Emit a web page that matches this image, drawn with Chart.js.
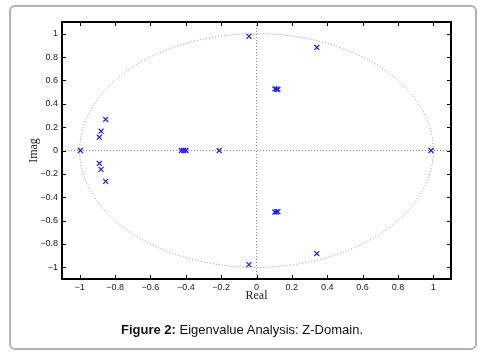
<!DOCTYPE html>
<html>
<head>
<meta charset="utf-8">
<script src="https://cdn.jsdelivr.net/npm/chart.js@4"></script>
<style>
  html, body { margin: 0; padding: 0; background: #fff; }
  body { width: 494px; height: 358px; position: relative; overflow: hidden; }
  #frame {
    position: absolute; left: 9px; top: 5px; width: 464px; height: 341px;
    border: 2px solid #b3b3b3; border-radius: 6px;
  }
  #wrap { position: absolute; left: 0; top: 0; width: 494px; height: 358px; }
  #caption {
    position: absolute; left: 0; width: 484px; top: 322px; text-align: center;
    font-family: "Liberation Sans", Arial, sans-serif; font-size: 13px; color: #111;
  }
</style>
</head>
<body>
<div id="frame"></div>
<div id="wrap"><canvas id="myChart" width="494" height="358"></canvas></div>
<div id="caption"><b>Figure 2:</b> Eigenvalue Analysis: Z-Domain.</div>
<script>
// eigenvalues
const realParts = [-0.996, 0.987, -0.425, -0.412, -0.399, -0.211,
  -0.043, -0.043, 0.341, 0.341,
  0.104, 0.113, 0.121, 0.104, 0.113, 0.121,
  -0.853, -0.879, -0.889, -0.853, -0.879, -0.889];
const imagParts = [0, 0, 0, 0, 0, 0,
  0.977, -0.977, 0.882, -0.882,
  0.527, 0.526, 0.522, -0.527, -0.525, -0.523,
  0.267, 0.165, 0.114, -0.264, -0.162, -0.111];

const xTicks = [-1, -0.8, -0.6, -0.4, -0.2, 0, 0.2, 0.4, 0.6, 0.8, 1];
const yTicks = [-1, -0.8, -0.6, -0.4, -0.2, 0, 0.2, 0.4, 0.6, 0.8, 1];

function fmt(v) {
  return v < 0 ? "\u2212" + Math.abs(v) : String(v);
}

// unit circle, zero lines, box and inward ticks (matlab look)
const matlabAxes = {
  id: "matlabAxes",
  beforeDatasetsDraw(chart) {
    const { ctx, chartArea: a, scales: { x, y } } = chart;
    const cx = x.getPixelForValue(0), cy = y.getPixelForValue(0);
    ctx.save();
    ctx.strokeStyle = "#8a8a8a";
    ctx.lineWidth = 1;
    ctx.setLineDash([1, 2]);
    ctx.beginPath();
    ctx.moveTo(a.left, cy); ctx.lineTo(a.right, cy);
    ctx.moveTo(cx, a.top); ctx.lineTo(cx, a.bottom);
    ctx.stroke();
    ctx.beginPath();
    ctx.ellipse(cx, cy, x.getPixelForValue(1) - cx, cy - y.getPixelForValue(1), 0, 0, Math.PI * 2);
    ctx.stroke();
    ctx.restore();
  },
  afterDraw(chart) {
    const { ctx, chartArea: a, scales: { x, y } } = chart;
    ctx.save();
    ctx.strokeStyle = "#000";
    ctx.lineWidth = 1;
    ctx.beginPath();
    xTicks.forEach((v) => {
      const px = Math.round(x.getPixelForValue(v)) + 0.5;
      ctx.moveTo(px, a.bottom); ctx.lineTo(px, a.bottom - 4);
      ctx.moveTo(px, a.top); ctx.lineTo(px, a.top + 4);
    });
    yTicks.forEach((v) => {
      const py = Math.round(y.getPixelForValue(v)) + 0.5;
      ctx.moveTo(a.left, py); ctx.lineTo(a.left + 4, py);
      ctx.moveTo(a.right, py); ctx.lineTo(a.right - 4, py);
    });
    ctx.stroke();
    ctx.lineWidth = 2;
    ctx.strokeRect(a.left, a.top, a.right - a.left, a.bottom - a.top);
    ctx.restore();
  },
};

const ctx = document.getElementById("myChart").getContext("2d");

const myChart = new Chart(ctx, {
  type: "scatter",
  data: {
    datasets: [
      {
        label: "eigenvalues",
        data: realParts.map((re, i) => ({ x: re, y: imagParts[i] })),
        pointStyle: "crossRot",
        pointRadius: 3.5,
        pointBorderWidth: 1.2,
        borderColor: "#1a1aff",
        backgroundColor: "#1a1aff",
      },
    ],
  },
  options: {
    responsive: false,
    animation: false,
    layout: { padding: { left: 27, right: 43, top: 22, bottom: 55 } },
    plugins: { legend: { display: false }, tooltip: { enabled: false } },
    scales: {
      x: {
        type: "linear",
        min: -1.1,
        max: 1.1,
        afterBuildTicks: (s) => { s.ticks = xTicks.map((v) => ({ value: v })); },
        afterFit: (s) => { s.height = 24; },
        grid: { display: false, drawTicks: false, tickLength: 0 },
        border: { display: false },
        ticks: {
          padding: 3,
          color: "#222",
          font: { family: "Liberation Sans", size: 9 },
          callback: (v) => fmt(v),
          maxRotation: 0,
        },
        title: {
          display: true,
          text: "Real",
          padding: 0,
          color: "#222",
          font: { family: "Liberation Serif", size: 12 },
        },
      },
      y: {
        type: "linear",
        min: -1.1,
        max: 1.1,
        afterBuildTicks: (s) => { s.ticks = yTicks.map((v) => ({ value: v })); },
        afterFit: (s) => { s.width = 35; },
        grid: { display: false, drawTicks: false, tickLength: 0 },
        border: { display: false },
        ticks: {
          padding: 4,
          color: "#222",
          font: { family: "Liberation Sans", size: 9 },
          callback: (v) => fmt(v),
        },
        title: {
          display: true,
          text: "Imag",
          padding: 0,
          color: "#222",
          font: { family: "Liberation Serif", size: 12 },
        },
      },
    },
  },
  plugins: [matlabAxes],
});
</script>
</body>
</html>
